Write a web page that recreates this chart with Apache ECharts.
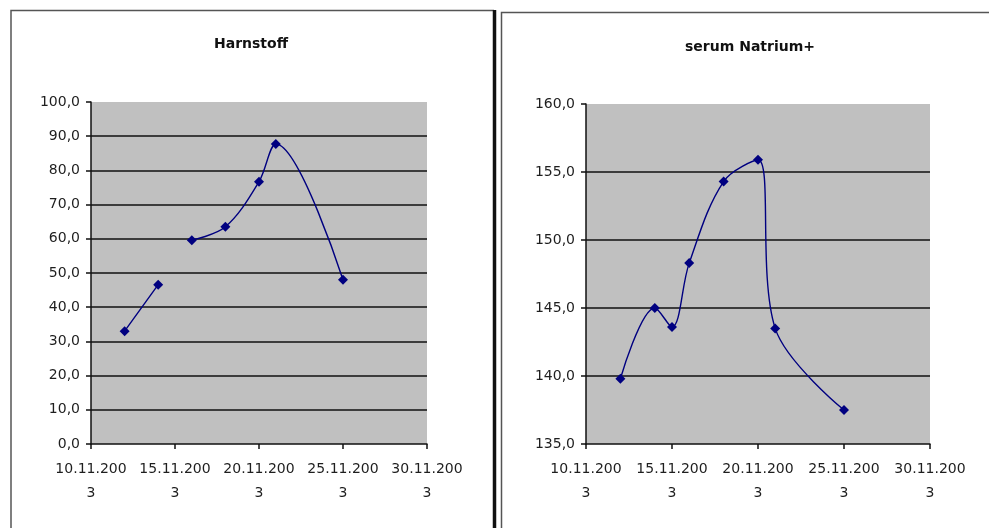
<!DOCTYPE html>
<html>
<head>
<meta charset="utf-8">
<script src="https://cdn.jsdelivr.net/npm/echarts@6/dist/echarts.min.js"></script>
<style>
html,body{margin:0;padding:0;background:#fff;}
#c{width:989px;height:528px;}
</style>
</head>
<body>
<div id="c"></div>
<script>
// ---- data ----
const dates = ['12.11.2003','14.11.2003','15.11.2003','16.11.2003','18.11.2003','20.11.2003','21.11.2003','25.11.2003'];
const harnstoff = [33.0, 46.6, null, 59.6, 63.5, 76.7, 87.7, 48.0];
const natrium = [139.8, 145.0, 143.6, 148.3, 154.3, 155.9, 143.5, 137.5];
const xTickLabels = ['10.11.2003','15.11.2003','20.11.2003','25.11.2003','30.11.2003'];
const titles = ['Harnstoff', 'serum Natrium+'];

// day-of-November from date strings
const dayOf = s => parseInt(s.split('.')[0], 10);
const xMin = dayOf(xTickLabels[0]);
const xMax = dayOf(xTickLabels[xTickLabels.length - 1]);
const labelFor = v => {
  const t = xTickLabels.find(l => dayOf(l) === v) || '';
  return t.slice(0, 9) + '\n' + t.slice(9);
};
const yFmt = v => v.toFixed(1).replace('.', ',');

const FONT = 'DejaVu Sans';
const TXT = '#1e1e1e';
const NAVY = '#000080';

function xAxis(gi) {
  return {
    type: 'value', gridIndex: gi, min: xMin, max: xMax, interval: 5,
    axisLine: {show: true, onZero: false, lineStyle: {color: '#111', width: 1.5}},
    axisTick: {show: true, length: 5, lineStyle: {color: '#111', width: 1.5}},
    splitLine: {show: false},
    axisLabel: {formatter: labelFor, fontFamily: FONT, fontSize: 14, color: TXT, lineHeight: 24, margin: 13}
  };
}
function yAxis(gi, min, max, interval) {
  return {
    type: 'value', gridIndex: gi, min: min, max: max, interval: interval,
    axisLine: {show: true, lineStyle: {color: '#111', width: 1.5}},
    axisTick: {show: true, length: 5, lineStyle: {color: '#111', width: 1.5}},
    splitLine: {show: true, showMinLine: false, showMaxLine: false, lineStyle: {color: '#111', width: 1.6}},
    axisLabel: {formatter: yFmt, fontFamily: FONT, fontSize: 14, color: TXT, margin: 11}
  };
}
function series(gi, vals) {
  return {
    type: 'line', xAxisIndex: gi, yAxisIndex: gi,
    data: dates.map((d, i) => [dayOf(d), vals[i]]),
    smooth: 0.35, connectNulls: false,
    symbol: 'diamond', symbolSize: 10,
    lineStyle: {color: NAVY, width: 1.4},
    itemStyle: {color: NAVY},
    animation: false
  };
}

const chart = echarts.init(document.getElementById('c'));
chart.setOption({
  backgroundColor: '#fff',
  animation: false,
  grid: [
    {left: 91, top: 102, width: 336, height: 342, show: true, backgroundColor: '#c0c0c0', borderWidth: 0},
    {left: 586, top: 104, width: 344, height: 340, show: true, backgroundColor: '#c0c0c0', borderWidth: 0}
  ],
  xAxis: [xAxis(0), xAxis(1)],
  yAxis: [yAxis(0, 0, 100, 10), yAxis(1, 135, 160, 5)],
  series: [series(0, harnstoff), series(1, natrium)],
  graphic: [
    // left chart frame
    {type: 'polyline', shape: {points: [[11, 528], [11, 10.5], [494, 10.5]]}, style: {stroke: '#555', lineWidth: 1.5, fill: null}, silent: true},
    {type: 'line', shape: {x1: 494.5, y1: 10, x2: 494.5, y2: 528}, style: {stroke: '#111', lineWidth: 3.5}, silent: true},
    // right chart frame
    {type: 'polyline', shape: {points: [[501.5, 528], [501.5, 12.5], [989, 12.5]]}, style: {stroke: '#555', lineWidth: 1.5, fill: null}, silent: true},
    // titles
    {type: 'text', x: 251, y: 44, style: {text: titles[0], fontFamily: FONT, fontSize: 14, fontWeight: 'bold', fill: '#111', textAlign: 'center', textVerticalAlign: 'middle'}, silent: true},
    {type: 'text', x: 750, y: 47, style: {text: titles[1], fontFamily: FONT, fontSize: 14, fontWeight: 'bold', fill: '#111', textAlign: 'center', textVerticalAlign: 'middle'}, silent: true}
  ]
});
</script>
</body>
</html>
